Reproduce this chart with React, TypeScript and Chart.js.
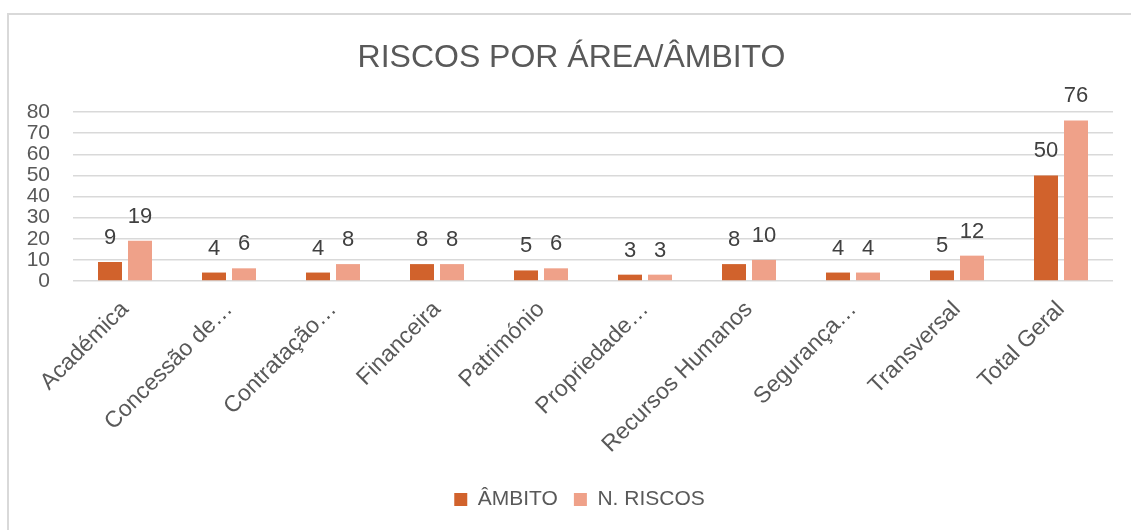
import React, { useEffect, useRef } from "react";
import { Chart, registerables } from "chart.js";

Chart.register(...registerables);

const categories = [
  "Académica",
  "Concessão de…",
  "Contratação…",
  "Financeira",
  "Património",
  "Propriedade…",
  "Recursos Humanos",
  "Segurança…",
  "Transversal",
  "Total Geral",
];
const ambito = [9, 4, 4, 8, 5, 3, 8, 4, 5, 50];
const nRiscos = [19, 6, 8, 8, 6, 3, 10, 4, 12, 76];
const seriesNames = ["ÂMBITO", "N. RISCOS"];
const seriesColors = ["#D1622C", "#EFA189"];
const chartTitle = "RISCOS POR ÁREA/ÂMBITO";
const yMin = 0;
const yMax = 80;
const yStep = 10;

const FONT = '"Liberation Sans", Arial, sans-serif';

const dataLabels = {
  id: "dataLabels",
  afterDatasetsDraw(chart: any) {
    const ctx = chart.ctx;
    ctx.save();
    ctx.font = `22px ${FONT}`;
    ctx.fillStyle = "#404040";
    ctx.textAlign = "center";
    ctx.textBaseline = "alphabetic";
    chart.data.datasets.forEach((ds: any, i: number) => {
      const meta = chart.getDatasetMeta(i);
      meta.data.forEach((bar: any, j: number) => {
        ctx.fillText(String(ds.data[j]), bar.x, bar.y - 18);
      });
    });
    ctx.restore();
  },
};

// nudge title and legend horizontally so they are centred like the reference
const boxShift = {
  id: "boxShift",
  afterLayout(chart: any) {
    const t = chart.titleBlock;
    if (t) {
      t.left += 15;
      t.right += 15;
    }
    const l = chart.legend;
    if (l) {
      l.left += 23;
      l.right += 23;
    }
  },
};

export default function App() {
  const ref = useRef<HTMLCanvasElement | null>(null);

  useEffect(() => {
    if (!ref.current) return;
    Chart.defaults.font.family = FONT;
    const chart = new Chart(ref.current, {
      type: "bar",
      data: {
        labels: categories,
        datasets: [
          {
            label: seriesNames[0],
            data: ambito,
            backgroundColor: seriesColors[0],
            borderWidth: 0,
            barPercentage: 0.8,
            categoryPercentage: 0.577,
          },
          {
            label: seriesNames[1],
            data: nRiscos,
            backgroundColor: seriesColors[1],
            borderWidth: 0,
            barPercentage: 0.8,
            categoryPercentage: 0.577,
          },
        ],
      },
      options: {
        responsive: false,
        animation: false,
        devicePixelRatio: 1,
        layout: { padding: { left: 0, right: 18, top: 13, bottom: 10 } },
        plugins: {
          title: {
            display: true,
            text: chartTitle,
            color: "#595959",
            font: { size: 32, weight: "normal" },
            padding: { top: 26, bottom: 34.6 },
          },
          legend: {
            position: "bottom",
            labels: {
              boxWidth: 13,
              boxHeight: 13,
              color: "#595959",
              font: { size: 21 },
              padding: 16,
            },
          },
          tooltip: { enabled: false },
        },
        scales: {
          x: {
            grid: { display: false, drawTicks: false },
            border: { display: false },
            ticks: {
              color: "#595959",
              font: { size: 23 },
              minRotation: 45,
              maxRotation: 45,
              autoSkip: false,
              padding: 15,
            },
            afterFit(s: any) {
              s.height = 192;
            },
          },
          y: {
            min: yMin,
            max: yMax,
            ticks: {
              stepSize: yStep,
              autoSkip: false,
              color: "#595959",
              font: { size: 21 },
              padding: 23,
            },
            grid: { color: "#d9d9d9", lineWidth: 1.5, drawTicks: false },
            border: { display: false },
            afterFit(s: any) {
              s.width = 73;
            },
          },
        },
      },
      plugins: [dataLabels, boxShift],
    } as any);
    return () => chart.destroy();
  }, []);

  return (
    <div
      style={{
        position: "fixed",
        left: 0,
        top: 0,
        width: 1131,
        height: 530,
        overflow: "hidden",
        background: "#fff",
      }}
    >
      <div
        style={{
          position: "absolute",
          left: 7,
          top: 13,
          width: 1140,
          height: 540,
          borderLeft: "2px solid #d9d9d9",
          borderTop: "2px solid #d9d9d9",
        }}
      />
      <canvas
        ref={ref}
        width={1131}
        height={530}
        style={{ position: "absolute", left: 0, top: 0 }}
      />
    </div>
  );
}
